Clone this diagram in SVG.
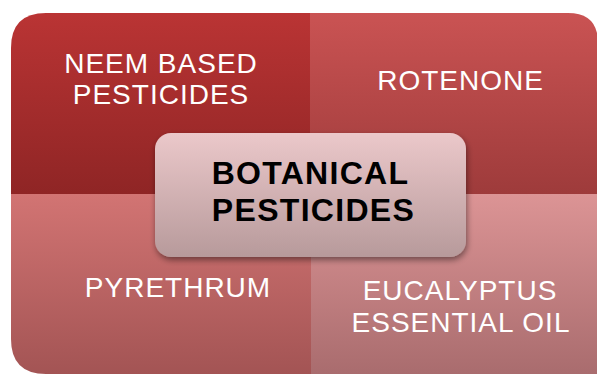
<svg xmlns="http://www.w3.org/2000/svg" width="597" height="374" viewBox="0 0 597 374">
<style>
.q{font-family:"Liberation Sans",Arial,sans-serif;font-size:28px;letter-spacing:1px;fill:#ffffff;text-anchor:middle}
.c{font-family:"Liberation Sans",Arial,sans-serif;font-size:32px;letter-spacing:1.3px;font-weight:bold;fill:#000000;text-anchor:middle}
</style>
<defs>
<linearGradient id="gTL" x1="0" y1="0" x2="0" y2="1"><stop offset="0" stop-color="#ba3434"/><stop offset="1" stop-color="#8f2525"/></linearGradient>
<linearGradient id="gTR" x1="0" y1="0" x2="0" y2="1"><stop offset="0" stop-color="#ca5353"/><stop offset="1" stop-color="#9e3b3b"/></linearGradient>
<linearGradient id="gBL" x1="0" y1="0" x2="0" y2="1"><stop offset="0" stop-color="#d27473"/><stop offset="1" stop-color="#a35454"/></linearGradient>
<linearGradient id="gBR" x1="0" y1="0" x2="0" y2="1"><stop offset="0" stop-color="#dc9495"/><stop offset="1" stop-color="#a96c6e"/></linearGradient>
<linearGradient id="gC" x1="0" y1="0" x2="0" y2="1"><stop offset="0" stop-color="#ebc8ca"/><stop offset="1" stop-color="#b79a9b"/></linearGradient>
<filter id="sh" x="-10%" y="-10%" width="120%" height="130%"><feGaussianBlur in="SourceAlpha" stdDeviation="3"/><feOffset dx="1" dy="3" result="b"/><feComponentTransfer><feFuncA type="linear" slope="0.45"/></feComponentTransfer><feMerge><feMergeNode/><feMergeNode in="SourceGraphic"/></feMerge></filter>
</defs>
<g id="neem">
<path d="M11 48 Q11 13 46 13 L311 13 L311 194 L11 194 Z" fill="url(#gTL)"/>
<text class="q" x="161" y="73">NEEM BASED</text>
<text class="q" x="161" y="104">PESTICIDES</text>
</g>
<g id="rotenone">
<path d="M310 13 L568 13 Q598 13 598 43 L598 194 L310 194 Z" fill="url(#gTR)"/>
<text class="q" x="460.5" y="90">ROTENONE</text>
</g>
<g id="pyrethrum">
<path d="M11 194 L311 194 L311 374 L46 374 Q11 374 11 339 Z" fill="url(#gBL)"/>
<text class="q" x="178" y="297">PYRETHRUM</text>
</g>
<g id="eucalyptus">
<path d="M311 194 L598 194 L598 374 L311 374 Z" fill="url(#gBR)"/>
<text class="q" x="460" y="300">EUCALYPTUS</text>
<text class="q" x="461" y="332">ESSENTIAL OIL</text>
</g>
<g id="connectors"></g>
<g id="botanical">
<rect x="155" y="133" width="311" height="124" rx="16" fill="url(#gC)" filter="url(#sh)"/>
<text class="c" x="310.5" y="184">BOTANICAL</text>
<text class="c" x="313.5" y="221">PESTICIDES</text>
</g>
</svg>
